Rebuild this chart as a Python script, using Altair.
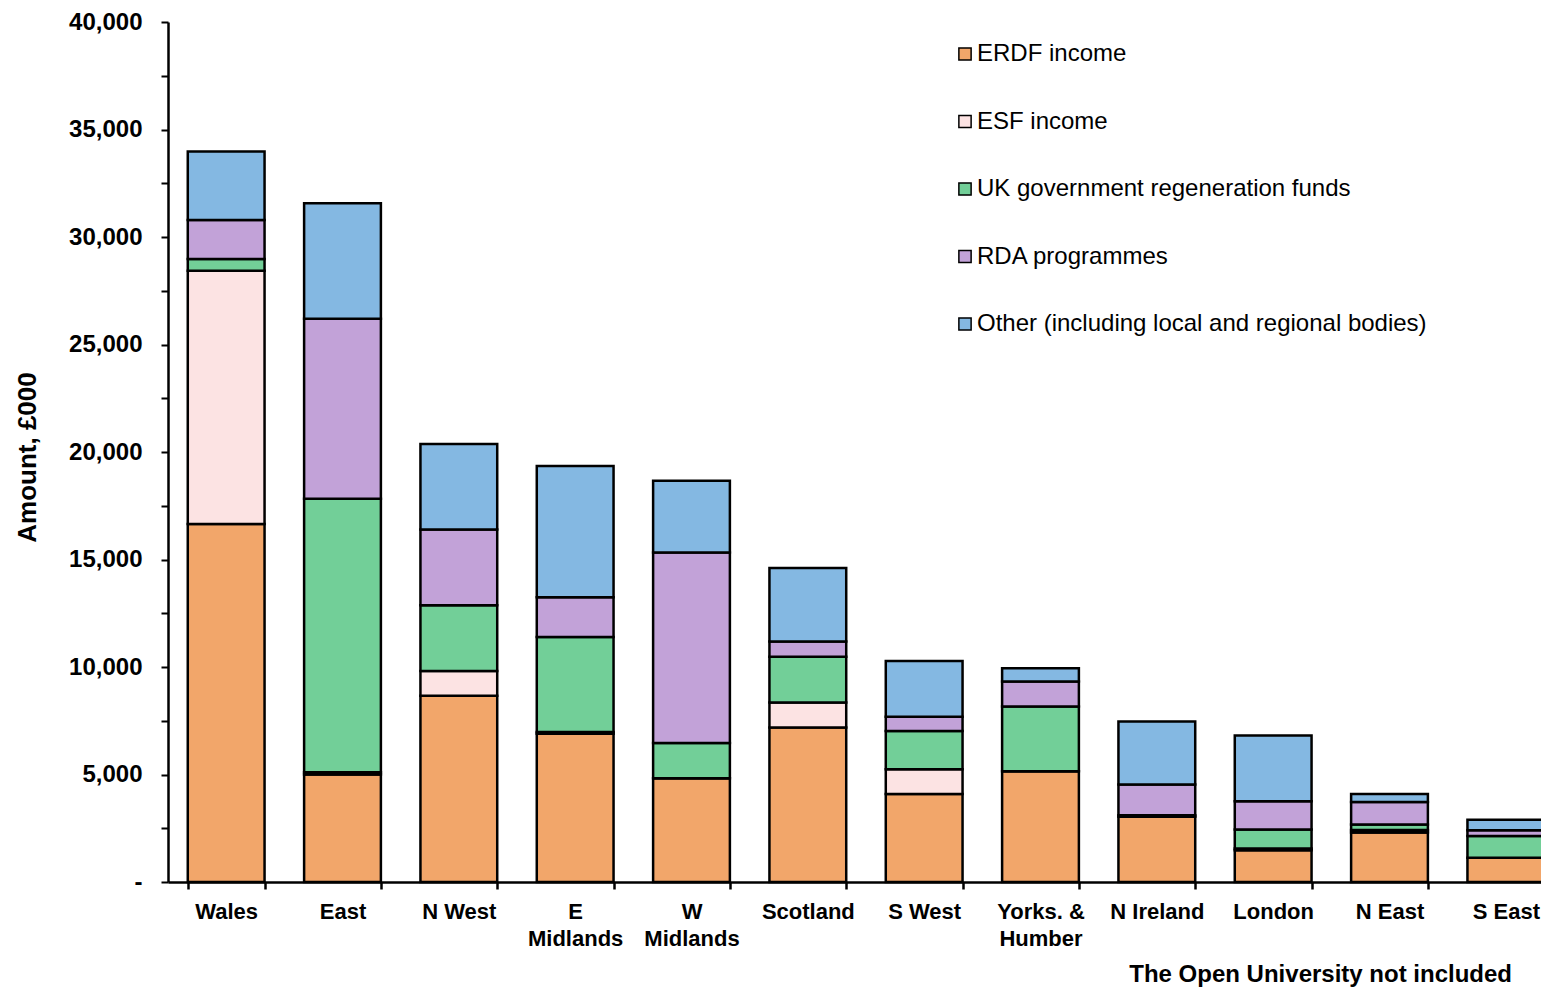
import altair as alt
import pandas as pd

regions = ["Wales", "East", "N West", "E Midlands", "W Midlands", "Scotland",
           "S West", "Yorks. & Humber", "N Ireland", "London", "N East", "S East"]
series = ["ERDF income", "ESF income", "UK government regeneration funds",
          "RDA programmes", "Other (including local and regional bodies)"]

erdf = [16650, 5000, 8660, 6900, 4830, 7190, 4090, 5150, 3040, 1480, 2300, 1130]
esf = [11780, 100, 1150, 80, 0, 1160, 1160, 0, 0, 80, 120, 0]
ukgov = [550, 12720, 3060, 4420, 1640, 2130, 1770, 3010, 60, 880, 250, 1010]
rda = [1810, 8380, 3520, 1840, 8850, 710, 670, 1160, 1440, 1320, 1050, 270]
other = [3190, 5370, 3980, 6110, 3340, 3410, 2590, 620, 2930, 3050, 370, 490]

colors = ["#F2A66A", "#FCE3E3", "#72CF98", "#C2A2D8", "#84B8E2"]

rows = []
for i, r in enumerate(regions):
    for k, vals in enumerate([erdf, esf, ukgov, rda, other]):
        rows.append({"region": r, "series": series[k], "order": k, "value": vals[i]})
df = pd.DataFrame(rows)

FONT = "Liberation Sans"

x_label_expr = ("datum.value == 'E Midlands' ? ['E', 'Midlands'] : "
                "datum.value == 'W Midlands' ? ['W', 'Midlands'] : "
                "datum.value == 'Yorks. & Humber' ? ['Yorks. &', 'Humber'] : datum.label")
y_label_expr = ("datum.value % 5000 != 0 ? '' : "
                "(datum.value == 0 ? '-\u00a0\u00a0' : format(datum.value, ','))")

chart = alt.Chart(df).mark_bar(
    stroke="black", strokeWidth=2.5, strokeJoin="miter"
).encode(
    x=alt.X("region:N", sort=regions, title=None,
            scale=alt.Scale(paddingInner=0.34, paddingOuter=0.17),
            axis=alt.Axis(labelAngle=0, labelExpr=x_label_expr, labelFont=FONT,
                          labelFontSize=22, labelFontWeight="bold", labelColor="black",
                          labelPadding=12, labelLineHeight=27, tickBand="extent",
                          tickSize=7, tickWidth=2.5, tickColor="black",
                          domainColor="black", domainWidth=2.5, grid=False)),
    y=alt.Y("value:Q", stack="zero", title="Amount, £000",
            scale=alt.Scale(domain=[0, 40000], nice=False),
            axis=alt.Axis(values=list(range(0, 40001, 2500)), labelExpr=y_label_expr,
                          labelFont=FONT, labelFontSize=24, labelFontWeight="bold",
                          labelColor="black", labelPadding=19, tickSize=7, tickWidth=2,
                          tickColor="black", domainColor="black", domainWidth=2.5,
                          grid=False, titleFont=FONT, titleFontSize=26,
                          titleFontWeight="bold", titleColor="black", titlePadding=28,
                          titleY=435)),
    color=alt.Color("series:N", sort=series,
                    scale=alt.Scale(domain=series, range=colors),
                    legend=alt.Legend(title=None, orient="none", legendX=785, legendY=20,
                                      symbolType="square", symbolSize=150,
                                      symbolStrokeColor="black", symbolStrokeWidth=1.5,
                                      labelFont=FONT, labelFontSize=24, labelColor="black",
                                      labelOffset=0, rowPadding=43.5, padding=0,
                                      labelLimit=700)),
    order=alt.Order("order:Q", sort="ascending"),
).properties(
    width=1396, height=860,
    background="white",
    autosize=alt.AutoSizeParams(type="none"),
    padding={"left": 160, "top": 14, "right": -23, "bottom": 106},
    title=alt.TitleParams("The Open University not included", orient="bottom",
                          anchor="end", font=FONT, fontSize=24, fontWeight="bold",
                          color="black", offset=14, dx=-52),
).configure_view(stroke=None)

chart.save("out.html", embed_options={"renderer": "svg", "actions": False})
